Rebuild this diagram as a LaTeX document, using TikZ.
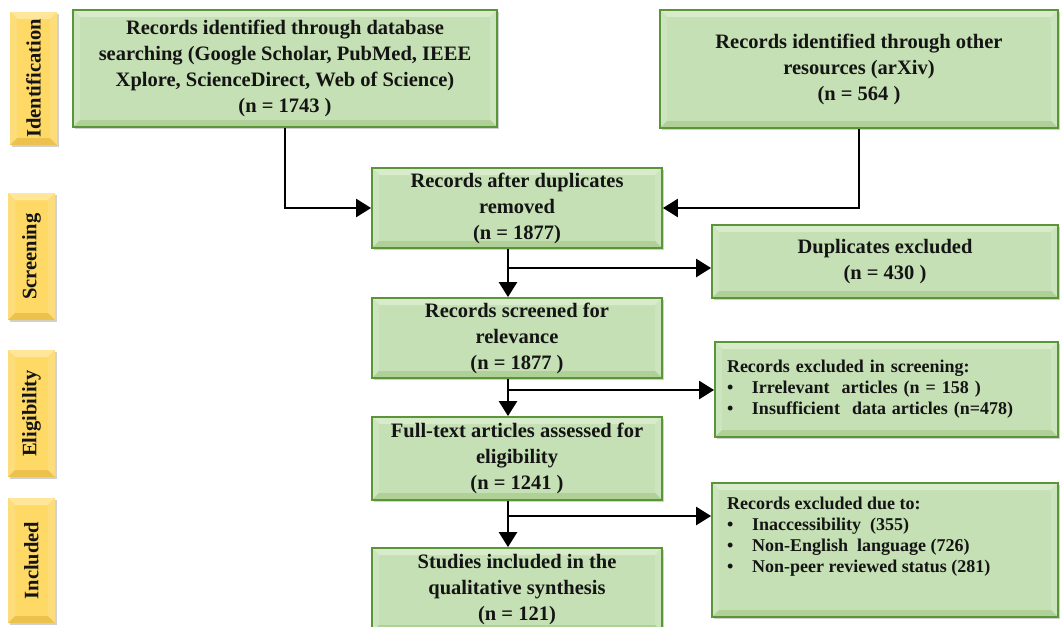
\documentclass[tikz,border=0pt]{standalone}
\usepackage{fontspec}
\setmainfont{Liberation Serif}
\usetikzlibrary{arrows.meta,shadows}

\definecolor{boxfill}{HTML}{C5E0B4}
\definecolor{boxline}{HTML}{5A9638}
\definecolor{boxlight}{HTML}{D8EBCB}
\definecolor{boxside}{HTML}{CDE5BE}
\definecolor{boxdark}{HTML}{AFD198}
\definecolor{tagfill}{HTML}{FFD966}
\definecolor{taglight}{HTML}{FFE699}
\definecolor{tagside}{HTML}{FCDD7A}
\definecolor{tagdark}{HTML}{EDC14E}
\definecolor{ink}{HTML}{141414}

\newcommand\bigtxt{\fontsize{20.5}{26}\selectfont\bfseries}
\newcommand\smalltxt{\fontsize{18}{21}\selectfont\bfseries}
\newcommand\bw{7pt}
\newcommand\itm[1]{\makebox[25pt][l]{\textbullet}#1}

\tikzset{
  bevelled/.style n args={3}{path picture={
    \fill[#1] (path picture bounding box.north west) -- (path picture bounding box.north east)
      -- ([xshift=-\bw,yshift=-\bw]path picture bounding box.north east)
      -- ([xshift=\bw,yshift=-\bw]path picture bounding box.north west) -- cycle;
    \fill[#2] (path picture bounding box.north west) -- ([xshift=\bw,yshift=-\bw]path picture bounding box.north west)
      -- ([xshift=\bw,yshift=\bw]path picture bounding box.south west)
      -- (path picture bounding box.south west) -- cycle;
    \fill[#2] (path picture bounding box.north east) -- (path picture bounding box.south east)
      -- ([xshift=-\bw,yshift=\bw]path picture bounding box.south east)
      -- ([xshift=-\bw,yshift=-\bw]path picture bounding box.north east) -- cycle;
    \fill[#3] (path picture bounding box.south west) -- (path picture bounding box.south east)
      -- ([xshift=-\bw,yshift=\bw]path picture bounding box.south east)
      -- ([xshift=\bw,yshift=\bw]path picture bounding box.south west) -- cycle;
  }},
  greenbox/.style={draw=boxline, line width=1.8pt, fill=boxfill,
    bevelled={boxlight}{boxside}{boxdark},
    drop shadow={shadow xshift=2pt, shadow yshift=-2pt, opacity=0.3, fill=black!60},
    inner sep=0pt, align=center, font=\bigtxt, text=ink},
  listbox/.style={greenbox, align=left, font=\smalltxt, inner xsep=12pt},
  tag/.style={fill=tagfill, bevelled={taglight}{tagside}{tagdark},
    drop shadow={shadow xshift=2pt, shadow yshift=-2pt, opacity=0.3, fill=black!60},
    inner sep=0pt, minimum width=47pt, font=\bigtxt, text=ink},
  arr/.style={line width=2.5pt, draw=black, -{Triangle[length=15pt,width=18pt]}}
}

\begin{document}
\begin{tikzpicture}[x=1pt,y=-1pt]
\useasboundingbox (0,0) rectangle (1062,626);
\clip (0,0) rectangle (1062,626);

% stage labels
\node[tag, minimum height=133pt] (tIdent) at (33.5,78.5) {\rotatebox{90}{Identification}};
\node[tag, minimum height=127pt] (tScreen) at (31.5,256.5) {\rotatebox{90}{Screening}};
\node[tag, minimum height=127pt] (tElig) at (31.5,413.5) {\rotatebox{90}{Eligibility}};
\node[tag, minimum height=125pt] (tIncl) at (31.5,560.5) {\rotatebox{90}{Included}};

% flow boxes
\node[greenbox, minimum width=424pt, minimum height=117pt] (db) at (285,68.5)
  {Records identified through database\\ searching (Google Scholar, PubMed, IEEE\\ Xplore, ScienceDirect, Web of Science)\\ (n = 1743 )};
\node[greenbox, minimum width=398pt, minimum height=118pt] (oth) at (859,69)
  {Records identified through other\\ resources (arXiv)\\ (n = 564 )};
\node[greenbox, minimum width=290pt, minimum height=80pt] (rad) at (517,208)
  {Records after duplicates\\ removed\\ (n = 1877)};
\node[greenbox, minimum width=346pt, minimum height=73pt] (dup) at (885,261.5)
  {Duplicates excluded\\ (n = 430 )};
\node[greenbox, minimum width=290pt, minimum height=80pt] (scr) at (517,338)
  {Records screened for\\ relevance\\ (n = 1877 )};
\node[listbox, text width=319pt, minimum height=95pt] (exs) at (886.5,389.5)
  {Records excluded in screening:\\ \itm{Irrelevant\ \ articles (n = 158 )}\\ \itm{Insufficient\ \ data articles (n=478)}};
\node[greenbox, minimum width=290pt, minimum height=83pt] (ft) at (517,458.5)
  {Full-text articles assessed for\\ eligibility\\ (n = 1241 )};
\node[greenbox, minimum width=290pt, minimum height=84pt] (inc) at (517,590)
  {Studies included in the\\ qualitative synthesis\\ (n = 121)};
\node[greenbox, minimum width=346pt, minimum height=134pt] (exd) at (885,550) {};
\node[anchor=north west, align=left, font=\smalltxt, text=ink, inner sep=0pt] (exdtext) at (727,497)
  {Records excluded due to:\\ \itm{Inaccessibility\ \ (355)}\\ \itm{Non-English\ \ language (726)}\\ \itm{Non-peer reviewed status (281)}};

% junctions on the main spine
\coordinate (j1) at (508,268);
\coordinate (j2) at (508,390);
\coordinate (j3) at (508,516);

% connectors
\draw[arr] (db.south) |- (rad.west);
\draw[arr] (oth.south) |- (rad.east);
\draw[arr] ([xshift=-9pt]rad.south) -- ([xshift=-9pt]scr.north);
\draw[arr] (j1) -- (j1 -| dup.west);
\draw[arr] ([xshift=-9pt]scr.south) -- ([xshift=-9pt]ft.north);
\draw[arr] (j2) -- (j2 -| exs.west);
\draw[arr] ([xshift=-9pt]ft.south) -- ([xshift=-9pt]inc.north);
\draw[arr] (j3) -- (j3 -| exd.west);
\end{tikzpicture}
\end{document}
